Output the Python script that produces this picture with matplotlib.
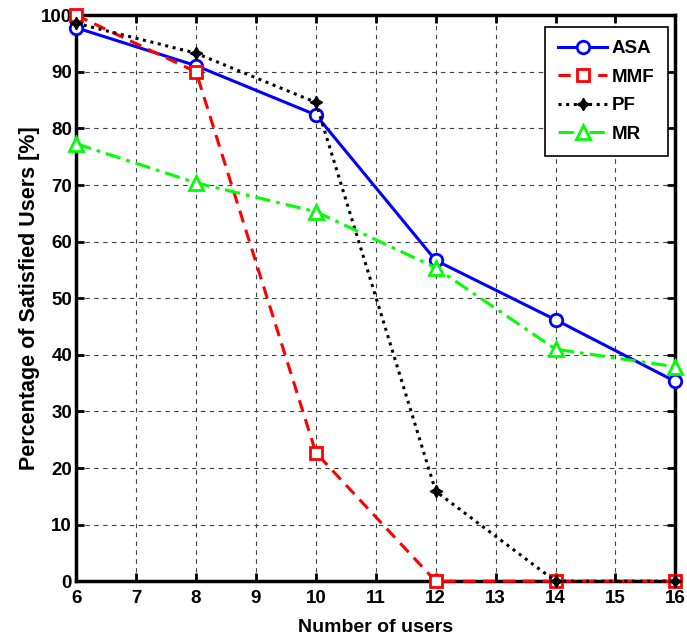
import matplotlib
matplotlib.use('Agg')
import matplotlib.pyplot as pl

# Values.
users = [6, 8, 10, 12, 14, 16]
asa = [97.8, 91.1, 82.4, 56.7, 46.2, 35.3]
mmf = [100.0, 90.0, 22.7, 0.0, 0.0, 0.0]
pf = [98.6, 93.3, 84.6, 15.9, 0.0, 0.0]
mr = [77.3, 70.4, 65.3, 55.4, 41.0, 37.9]


def main():
    pl.rcParams['font.family'] = ['Liberation Sans', 'DejaVu Sans']
    pl.rcParams['font.weight'] = 'bold'

    fig = pl.figure(figsize=(6.87, 6.38), dpi=100)
    ax = fig.add_axes([0.111, 0.089, 0.872, 0.887])

    ax.plot(users, asa, color='blue', linestyle='-', linewidth=2.2,
            marker='o', markersize=9, markerfacecolor='white',
            markeredgewidth=2, label='ASA', clip_on=False, zorder=3)
    ax.plot(users, mmf, color='red', linestyle=(0, (4, 2.5)), linewidth=2.2,
            marker='s', markersize=9, markerfacecolor='white',
            markeredgewidth=2, label='MMF', clip_on=False, zorder=3)
    ax.plot(users, pf, color='black', linestyle=(0, (1, 1.5)), linewidth=2.2,
            marker=(4, 1, 0), markersize=9, label='PF', clip_on=False,
            zorder=3)
    ax.plot(users, mr, color=(0, 1, 0), linestyle=(0, (5, 2, 1.2, 2)),
            linewidth=2.2, marker='^', markersize=10, markerfacecolor='white',
            markeredgewidth=2, label='MR', clip_on=False, zorder=3)

    ax.set_xlim(6, 16)
    ax.set_ylim(0, 100)
    ax.set_xticks(range(6, 17))
    ax.set_yticks(range(0, 101, 10))
    ax.grid(True, color='0.25', linestyle=(0, (4, 4)), linewidth=0.8)
    ax.tick_params(direction='in', length=6, width=2, labelsize=13.5,
                   top=True, right=True)
    ax.tick_params(axis='x', pad=6)
    ax.tick_params(axis='y', pad=3)
    for spine in ax.spines.values():
        spine.set_linewidth(2.5)

    ax.set_xlabel('Number of users', fontsize=14, fontweight='bold',
                  labelpad=9)
    ax.set_ylabel('Percentage of Satisfied Users [%]', fontsize=15.5,
                  fontweight='bold', labelpad=1)

    leg = ax.legend(loc='upper right', fontsize=13.5, handlelength=2.6,
                    handletextpad=0.25, borderpad=0.7, labelspacing=0.6,
                    fancybox=False, framealpha=1, edgecolor='black',
                    borderaxespad=0, bbox_to_anchor=(0.987, 0.979))
    leg.get_frame().set_linewidth(1.2)

    fig.savefig('out.png', dpi=100)


if __name__ == '__main__':
    main()
